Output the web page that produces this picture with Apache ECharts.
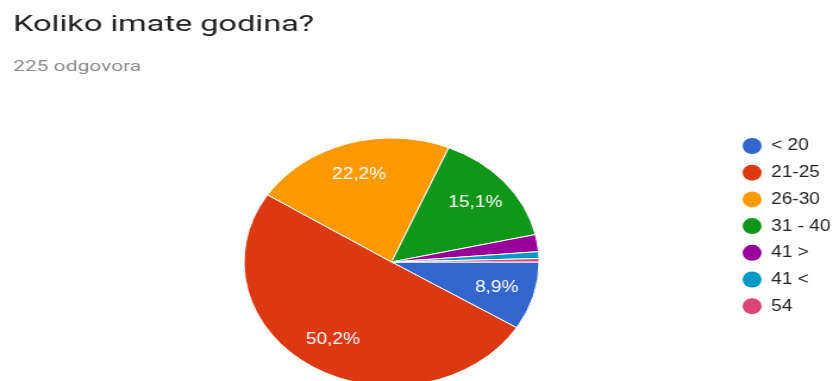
<!DOCTYPE html>
<html>
<head>
<meta charset="utf-8">
<script src="https://cdn.jsdelivr.net/npm/echarts@6/dist/echarts.min.js"></script>
<style>
  html, body { margin: 0; padding: 0; background: #fff; overflow: hidden; }
  /* the reference is a horizontally stretched screenshot, so the chart is stretched too */
  #pieChart { width: 700px; height: 381px; transform: scaleX(1.19); transform-origin: 0 0; }
</style>
</head>
<body>
<div id="pieChart"></div>
<script>
const categories = ['< 20', '21-25', '26-30', '31 - 40', '41 >', '41 <', '54']
const counts = [20, 113, 50, 34, 5, 2, 1]
const colors = ['#3366cc', '#dc3912', '#ff9900', '#109618', '#990099', '#0099c6', '#dd4477']
const titleText = 'Koliko imate godina?'
const subtitleText = '225 odgovora'

const pieData = categories.map((name, i) => ({ name: name, value: counts[i] }))

const chart = echarts.init(document.getElementById('pieChart'))

const option = {
  color: colors,
  animation: false,
  // title + response count, drawn as text elements so they can be widened like the screenshot
  graphic: [
    {
      type: 'text',
      x: 11,
      y: 25.5,
      scaleX: 1.24,
      silent: true,
      style: {
        text: titleText,
        fontFamily: 'Roboto',
        fontSize: 22,
        fill: '#212121',
        verticalAlign: 'middle',
      },
    },
    {
      type: 'text',
      x: 11,
      y: 67,
      scaleX: 1.26,
      silent: true,
      style: {
        text: subtitleText,
        fontFamily: 'Roboto',
        fontSize: 14,
        fill: '#8a8a8a',
        verticalAlign: 'middle',
      },
    },
  ],
  legend: {
    orient: 'vertical',
    left: 619,
    top: 133,
    icon: 'circle',
    itemWidth: 22,
    itemHeight: 16,
    itemGap: 10.7,
    itemStyle: { borderWidth: 0 },
    textStyle: { fontFamily: 'Liberation Sans', fontSize: 16, color: '#222' },
    data: categories,
  },
  series: [
    {
      // visible slices
      name: 'godine',
      type: 'pie',
      center: [329, 262],
      radius: [0, 124],
      startAngle: 0,
      clockwise: true,
      label: { show: false },
      labelLine: { show: false },
      itemStyle: { borderColor: '#fff', borderWidth: 1 },
      emphasis: { disabled: true },
      data: pieData,
    },
    {
      // transparent ring used only to place the percentage labels further out
      name: 'labels',
      type: 'pie',
      silent: true,
      center: [329, 262],
      radius: [54, 124],
      startAngle: 0,
      clockwise: true,
      itemStyle: { color: 'rgba(0,0,0,0)', borderWidth: 0 },
      labelLine: { show: false },
      label: {
        position: 'inside',
        color: '#fff',
        fontFamily: 'Liberation Sans',
        fontSize: 16,
        formatter: (p) => (p.percent < 5 ? '' : p.percent.toFixed(1).replace('.', ',') + '%'),
      },
      emphasis: { disabled: true },
      data: pieData,
    },
  ],
}

chart.setOption(option)
</script>
</body>
</html>
